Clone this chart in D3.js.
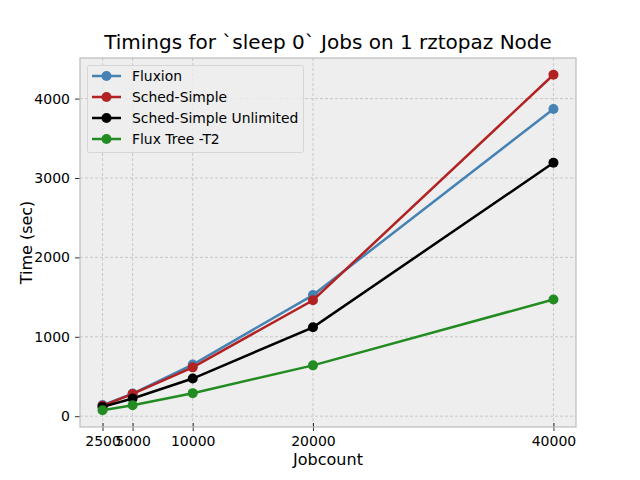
<!DOCTYPE html>
<html>
<head>
<meta charset="utf-8">
<script src="https://cdn.jsdelivr.net/npm/d3@7"></script>
<style>
  body { margin: 0; background: #fff; }
  svg { font-family: "DejaVu Sans", sans-serif; }
</style>
</head>
<body>
<div id="chart"></div>
<script>
// chart data
var jobcounts = [2500, 5000, 10000, 20000, 40000];
var seriesNames = ["Fluxion", "Sched-Simple", "Sched-Simple Unlimited", "Flux Tree -T2"];
var seriesColors = ["#4682b4", "#b22222", "#000000", "#228b22"];
var fluxion = [140, 285, 650, 1525, 3870];
var schedSimple = [130, 280, 615, 1460, 4300];
var schedUnlimited = [117, 222, 474, 1119, 3191];
var fluxTree = [75, 138, 290, 640, 1470];
var yTicks = [0, 1000, 2000, 3000, 4000];

var seriesValues = [fluxion, schedSimple, schedUnlimited, fluxTree];

var width = 640, height = 480;
// plot area (avoid the global window.top name)
var padLeft = 80, padRight = 576, padTop = 58, padBottom = 427;

var svg = d3.select("#chart").append("svg")
  .attr("width", width)
  .attr("height", height);

// matplotlib-like 5% margins
var xMin = d3.min(jobcounts), xMax = d3.max(jobcounts);
var xPad = (xMax - xMin) * 0.05;
var allY = d3.merge(seriesValues);
var yMin = d3.min(allY), yMax = d3.max(allY);
var yPad = (yMax - yMin) * 0.05;

var xScale = d3.scaleLinear()
  .domain([xMin - xPad, xMax + xPad])
  .range([padLeft, padRight]);
var yScale = d3.scaleLinear()
  .domain([yMin - yPad, yMax + yPad])
  .range([padBottom, padTop]);

// plot background
svg.append("rect")
  .attr("x", padLeft).attr("y", padTop)
  .attr("width", padRight - padLeft).attr("height", padBottom - padTop)
  .style("fill", "#eeeeee");

// grid lines
var grid = svg.append("g");
jobcounts.forEach(function (d) {
  grid.append("line")
    .attr("x1", xScale(d)).attr("x2", xScale(d))
    .attr("y1", padTop).attr("y2", padBottom)
    .style("stroke", "#b8b8b8").style("stroke-width", 0.7)
    .style("stroke-dasharray", "3,2");
});
yTicks.forEach(function (d) {
  grid.append("line")
    .attr("x1", padLeft).attr("x2", padRight)
    .attr("y1", yScale(d)).attr("y2", yScale(d))
    .style("stroke", "#b8b8b8").style("stroke-width", 0.7)
    .style("stroke-dasharray", "3,2");
});

// axes
var xAxis = d3.axisBottom(xScale)
  .tickValues(jobcounts)
  .tickFormat(d3.format("d"))
  .tickSizeInner(5).tickSizeOuter(0).tickPadding(4);
var yAxis = d3.axisLeft(yScale)
  .tickValues(yTicks)
  .tickFormat(d3.format("d"))
  .tickSizeInner(5).tickSizeOuter(0).tickPadding(5);

var gx = svg.append("g")
  .attr("transform", "translate(0," + padBottom + ")")
  .call(xAxis);
var gy = svg.append("g")
  .attr("transform", "translate(" + padLeft + ",0)")
  .call(yAxis);
[gx, gy].forEach(function (g) {
  g.select(".domain").remove();
  g.selectAll(".tick line").style("stroke", "#000").style("stroke-width", 0.8);
  g.selectAll(".tick text")
    .style("font-family", "DejaVu Sans")
    .style("font-size", "14px")
    .style("fill", "#000");
});
gx.selectAll(".tick line").attr("y1", -4).attr("y2", 4);

// spines
svg.append("rect")
  .attr("x", padLeft).attr("y", padTop)
  .attr("width", padRight - padLeft).attr("height", padBottom - padTop)
  .style("fill", "none")
  .style("stroke", "#bcbcbc")
  .style("stroke-width", 1.2);

// lines and markers
var line = d3.line()
  .x(function (d, i) { return xScale(jobcounts[i]); })
  .y(function (d) { return yScale(d); });

seriesValues.forEach(function (vals, s) {
  var g = svg.append("g");
  g.append("path")
    .datum(vals)
    .attr("d", line)
    .style("fill", "none")
    .style("stroke", seriesColors[s])
    .style("stroke-width", 2.5);
  g.selectAll("circle")
    .data(vals)
    .enter()
    .append("circle")
    .attr("cx", function (d, i) { return xScale(jobcounts[i]); })
    .attr("cy", function (d) { return yScale(d); })
    .attr("r", 5)
    .style("fill", seriesColors[s]);
});

// legend
var legend = svg.append("g");
legend.append("rect")
  .attr("x", 87.5).attr("y", 65.5)
  .attr("width", 216).attr("height", 87)
  .attr("rx", 2)
  .style("fill", "#eeeeee")
  .style("fill-opacity", 0.8)
  .style("stroke", "#d6d6d6")
  .style("stroke-width", 1);
seriesNames.forEach(function (name, i) {
  var y = 76 + i * 21;
  legend.append("line")
    .attr("x1", 92).attr("x2", 121)
    .attr("y1", y).attr("y2", y)
    .style("stroke", seriesColors[i])
    .style("stroke-width", 2.5);
  legend.append("circle")
    .attr("cx", 106.5).attr("cy", y).attr("r", 5)
    .style("fill", seriesColors[i]);
  legend.append("text")
    .attr("x", 132).attr("y", y + 5)
    .style("font-size", "13.9px")
    .text(name);
});

// title and labels
svg.append("text")
  .attr("x", (padLeft + padRight) / 2).attr("y", 49)
  .attr("text-anchor", "middle")
  .style("font-size", "20px")
  .text("Timings for `sleep 0` Jobs on 1 rztopaz Node");
svg.append("text")
  .attr("x", (padLeft + padRight) / 2).attr("y", 465)
  .attr("text-anchor", "middle")
  .style("font-size", "16px")
  .text("Jobcount");
svg.append("text")
  .attr("transform", "translate(32," + ((padTop + padBottom) / 2) + ") rotate(-90)")
  .attr("text-anchor", "middle")
  .style("font-size", "16px")
  .text("Time (sec)");
</script>
</body>
</html>
